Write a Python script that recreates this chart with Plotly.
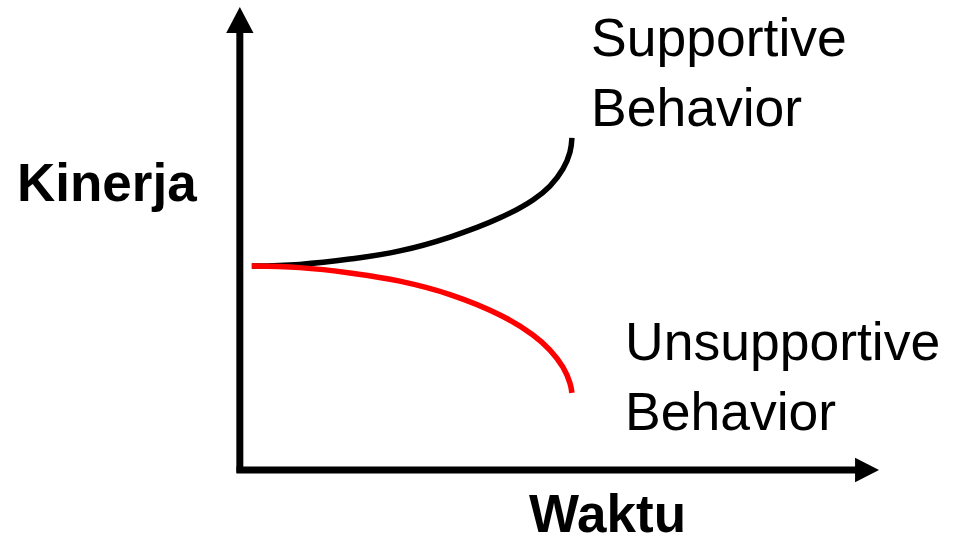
import plotly.graph_objects as go

# curve readings (time units on x, performance units on y)
waktu = [0.36, 1.80, 3.30, 4.80, 6.31, 7.81, 8.80, 9.31, 9.70, 9.91, 9.97]
supportive = [5.00, 5.04, 5.17, 5.37, 5.71, 6.18, 6.62, 6.96, 7.38, 7.79, 8.14]
unsupportive = [5.00, 4.96, 4.83, 4.63, 4.30, 3.80, 3.31, 2.94, 2.52, 2.13, 1.89]

label_y = "Kinerja"
label_x = "Waktu"
label_sup = "Supportive<br>Behavior"
label_unsup = "Unsupportive<br>Behavior"

X_RANGE = [-7.2, 21.5]
Y_RANGE = [-1.667, 11.52]
FONT = "Liberation Sans, Arial, sans-serif"

fig = go.Figure()
fig.add_trace(go.Scatter(x=waktu, y=supportive, mode="lines",
                         line=dict(color="black", width=5.5, shape="spline", smoothing=1.2),
                         hoverinfo="skip"))
fig.add_trace(go.Scatter(x=waktu, y=unsupportive, mode="lines",
                         line=dict(color="red", width=5.5, shape="spline", smoothing=1.2),
                         hoverinfo="skip"))

# axes drawn by hand with arrow heads
fig.add_shape(type="line", x0=0, y0=-0.07, x1=0, y1=10.8,
              line=dict(color="black", width=7))
fig.add_shape(type="line", x0=-0.1, y0=0, x1=18.6, y1=0,
              line=dict(color="black", width=7))
fig.add_shape(type="path", path="M -0.41 10.71 L 0.41 10.71 L 0 11.35 Z",
              fillcolor="black", line=dict(color="black", width=0))
fig.add_shape(type="path", path="M 18.47 -0.3 L 18.47 0.3 L 19.19 0 Z",
              fillcolor="black", line=dict(color="black", width=0))

fig.add_annotation(text=label_y, xref="paper", yref="paper", x=0.016, y=0.66,
                   xanchor="left", yanchor="middle", showarrow=False,
                   font=dict(family=FONT, size=53, color="black", weight="bold"))
fig.add_annotation(text=label_x, xref="paper", yref="paper", x=0.551, y=0.045,
                   xanchor="left", yanchor="middle", showarrow=False,
                   font=dict(family=FONT, size=53, color="black", weight="bold"))
fig.add_annotation(text=label_sup, xref="paper", yref="paper", x=0.616, y=0.866,
                   xanchor="left", yanchor="middle", showarrow=False, align="left",
                   font=dict(family=FONT, size=53.5, color="black"))
fig.add_annotation(text=label_unsup, xref="paper", yref="paper", x=0.652, y=0.30,
                   xanchor="left", yanchor="middle", showarrow=False, align="left",
                   font=dict(family=FONT, size=53.5, color="black"))

fig.update_xaxes(range=X_RANGE, visible=False, fixedrange=True)
fig.update_yaxes(range=Y_RANGE, visible=False, fixedrange=True)
fig.update_layout(width=956, height=538, margin=dict(l=0, r=0, t=0, b=0),
                  paper_bgcolor="white", plot_bgcolor="white", showlegend=False)

fig.write_html("out.html", config={"displayModeBar": False},
               post_script="document.body.style.margin='0px';")
